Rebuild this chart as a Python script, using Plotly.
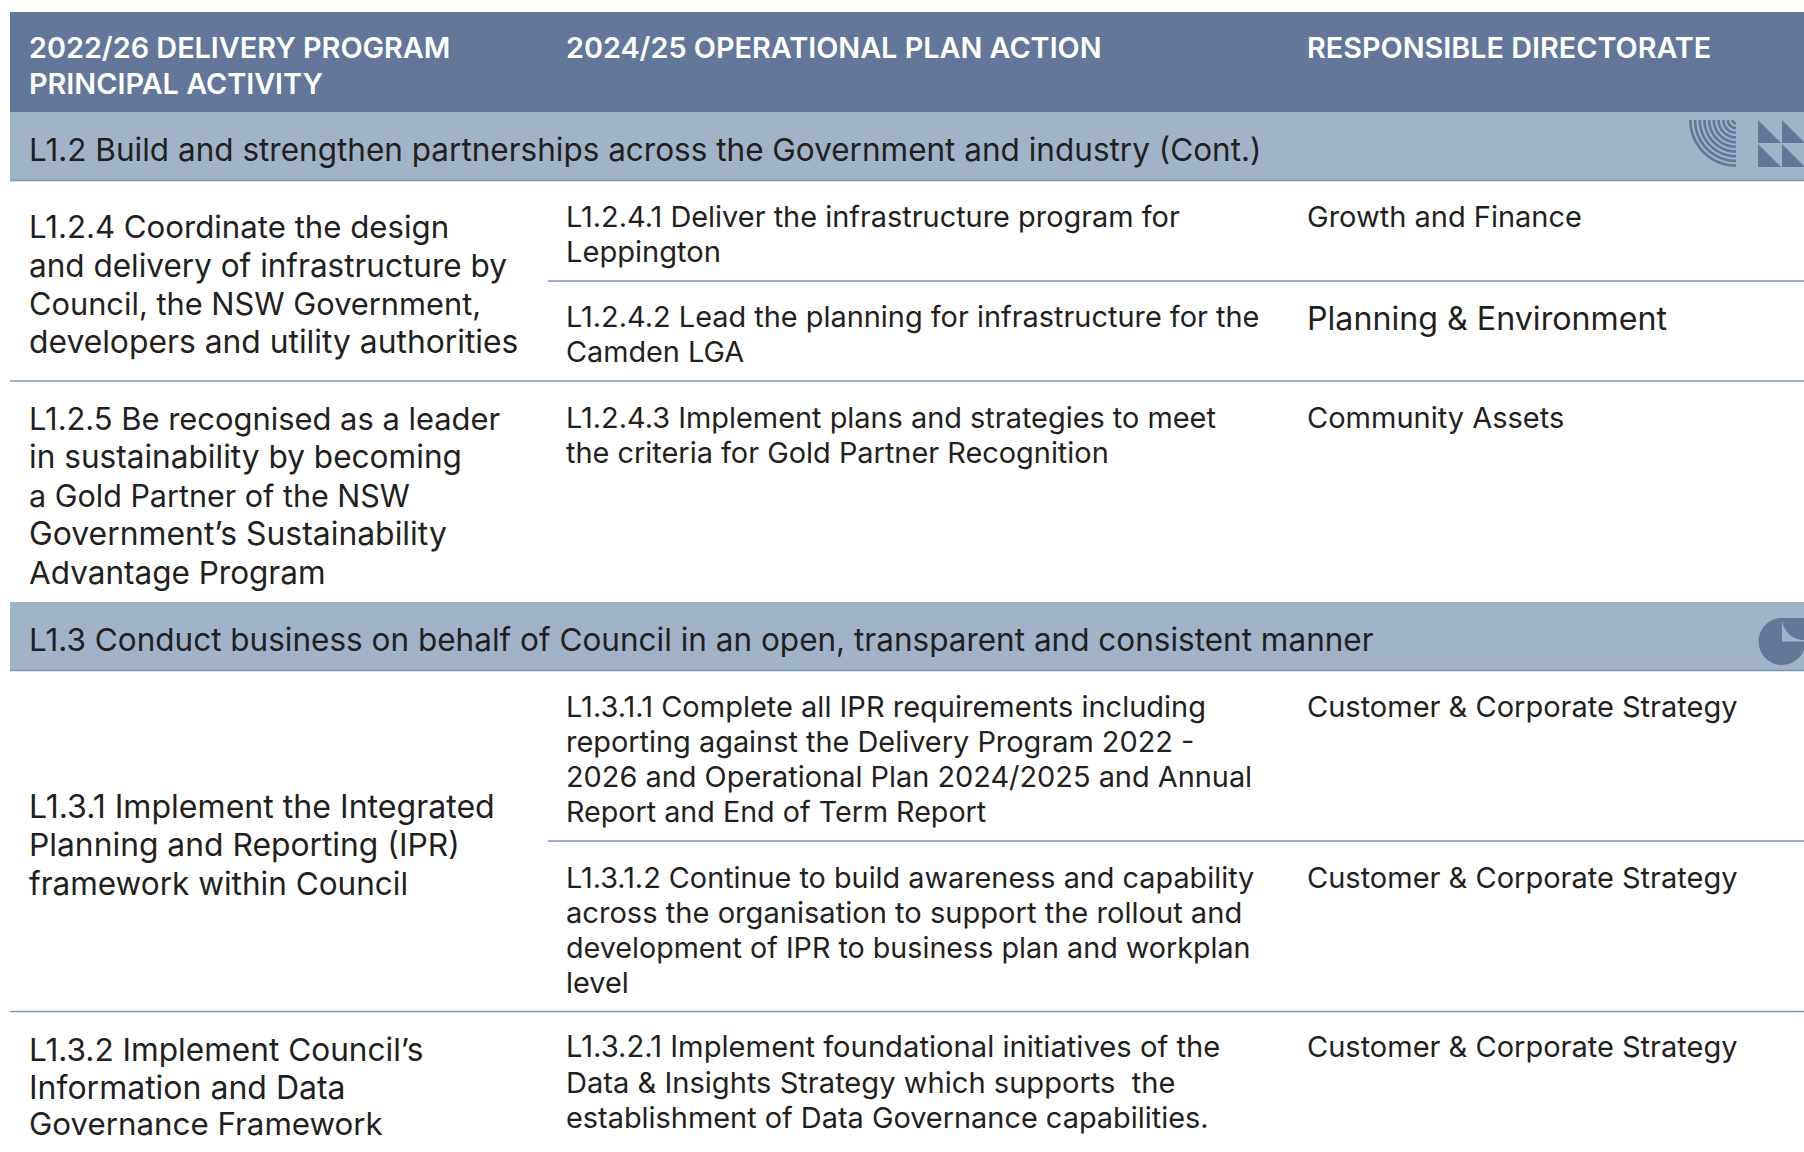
import plotly.graph_objects as go

# ---- content ----
header_col1 = ["2022/26 DELIVERY PROGRAM", "PRINCIPAL ACTIVITY"]
header_col2 = ["2024/25 OPERATIONAL PLAN ACTION"]
header_col3 = ["RESPONSIBLE DIRECTORATE"]
bands = ["L1.2 Build and strengthen partnerships across the Government and industry (Cont.)",
         "L1.3 Conduct business on behalf of Council in an open, transparent and consistent manner"]
activities = ["L1.2.4 Coordinate the design", "and delivery of infrastructure by", "Council, the NSW Government,",
              "developers and utility authorities",
              "L1.2.5 Be recognised as a leader", "in sustainability by becoming", "a Gold Partner of the NSW",
              "Government\u2019s Sustainability", "Advantage Program",
              "L1.3.1 Implement the Integrated", "Planning and Reporting (IPR)", "framework within Council",
              "L1.3.2 Implement Council\u2019s", "Information and Data", "Governance Framework"]
actions = ["L1.2.4.1 Deliver the infrastructure program for", "Leppington",
           "L1.2.4.2 Lead the planning for infrastructure for the", "Camden LGA",
           "L1.2.4.3 Implement plans and strategies to meet", "the criteria for Gold Partner Recognition",
           "L1.3.1.1 Complete all IPR requirements including", "reporting against the Delivery Program 2022 -",
           "2026 and Operational Plan 2024/2025 and Annual", "Report and End of Term Report",
           "L1.3.1.2 Continue to build awareness and capability", "across the organisation to support the rollout and",
           "development of IPR to business plan and workplan", "level",
           "L1.3.2.1 Implement foundational initiatives of the", "Data & Insights Strategy which supports  the",
           "establishment of Data Governance capabilities."]
directorates = ["Growth and Finance", "Planning & Environment", "Community Assets",
                "Customer & Corporate Strategy", "Customer & Corporate Strategy", "Customer & Corporate Strategy"]

# ---- layout (pixel rows) ----
FONT = "Inter"
INK = "#231f20"
HEAD = "#62779a"
BAND = "#a0b3c9"
RULE = "#7f94b4"
X1, X2, X3 = 27, 564, 1305
y_head1 = [47.5, 83.5]
y_head2 = [47.5]
y_bands = [149, 639]
y_act = [227, 265, 303, 341, 418, 456, 495, 533, 572, 806, 844, 883, 1049, 1087, 1124]
y_actions = [216, 251, 316, 351, 417, 452, 706, 741, 776, 811, 877, 912, 947, 982, 1046, 1082, 1117]
y_dir = [216, 318, 417, 706, 877, 1046]
size_dir = [29, 32.2, 29, 29, 29, 29]
size_act = [31.2, 31.5, 30.8, 31.8, 30.9, 31.6, 30.5, 31.9, 31.5, 32.1, 31.8, 31.5, 31.6, 32, 31.3]
size_actions = [28.9, 29.1, 28.9, 28.8, 28.9, 28.9, 29, 28.9, 28.9, 28.7, 28.8, 29.1, 28.7, 28.9, 29.2, 29.1, 28.9]
SIZE_HEAD = 28.8
SIZE_BAND = 31.5

shapes = []
def rect(x0, y0, x1, y1, c):
    shapes.append(dict(type="rect", x0=x0, y0=y0, x1=x1, y1=y1, fillcolor=c, line_width=0, layer="below"))
def path(d, c):
    shapes.append(dict(type="path", path=d, fillcolor=c, line_width=0, layer="below"))
def hline(x0, x1, y, c=RULE):
    shapes.append(dict(type="line", x0=x0, x1=x1, y0=y, y1=y, line=dict(color=c, width=1.5), layer="below"))

rect(10, 12, 1804, 112, HEAD)
rect(10, 112, 1804, 180, BAND)
rect(10, 602, 1804, 670, BAND)
for y in [180.5, 381, 670.5, 1011.5]:
    hline(10, 1804, y)
for y in [281, 841]:
    hline(548, 1804, y)

# quarter-ring icon
K = 0.5523
cx, cy = 1736, 120
for k in range(10):
    for r, c in [(47 - 4.7 * k, HEAD), (47 - 4.7 * k - 2.7, BAND)]:
        path(f"M{cx},{cy} L{cx},{cy + r} C{cx - K * r},{cy + r} {cx - r},{cy + K * r} {cx - r},{cy} Z", c)

# triangle icon
for (x0, x1) in [(1758, 1781), (1782, 1805)]:
    for (y0, y1) in [(120, 143), (144, 167)]:
        path(f"M{x0},{y0} L{x0},{y1} L{x1},{y1} Z", HEAD)

# pie icon
ccx, ccy, R = 1782, 641.5, 23.5
shapes.append(dict(type="circle", x0=ccx - R, x1=ccx + R, y0=ccy - R, y1=ccy + R, fillcolor=HEAD, line_width=0, layer="below"))
rect(ccx, ccy - R, 1806, ccy, BAND)
r2 = 22
path(f"M{ccx},{ccy - R} L1804,{ccy - R} L1804,{ccy - R + r2} "
     f"C{1804 - K * r2},{ccy - R + r2} {ccx},{ccy - R + K * r2} {ccx},{ccy - R} Z", HEAD)

ann = []
def put(x, y, t, size, color=INK, weight=400):
    ann.append(dict(x=x, y=y, text=t, xref="x", yref="y", xanchor="left", yanchor="middle", showarrow=False,
                    font=dict(family=FONT, size=size, color=color, weight=weight)))

for t, y in zip(header_col1, y_head1):
    put(X1, y, t, SIZE_HEAD, "white", 600)
for t, y in zip(header_col2, y_head2):
    put(X2, y, t, SIZE_HEAD, "white", 600)
for t, y in zip(header_col3, y_head2):
    put(X3, y, t, SIZE_HEAD, "white", 600)
for t, y in zip(bands, y_bands):
    put(X1, y, t, SIZE_BAND)
for t, y, s in zip(activities, y_act, size_act):
    put(X1, y, t, s)
for t, y, s in zip(actions, y_actions, size_actions):
    put(X2, y, t, s)
for t, y, s in zip(directorates, y_dir, size_dir):
    put(X3, y, t, s)

fig = go.Figure(go.Scatter(x=[0, 1804], y=[0, 1152], mode="markers", marker=dict(opacity=0), hoverinfo="skip"))
fig.update_layout(width=1804, height=1152, margin=dict(l=0, r=0, t=0, b=0), paper_bgcolor="white", plot_bgcolor="white",
                  showlegend=False, shapes=shapes, annotations=ann,
                  xaxis=dict(range=[0, 1804], visible=False, fixedrange=True),
                  yaxis=dict(range=[1152, 0], visible=False, fixedrange=True))
fig.write_html("out.html", config=dict(displayModeBar=False),
               post_script="document.body.style.margin='0';document.documentElement.style.overflow='hidden';")
